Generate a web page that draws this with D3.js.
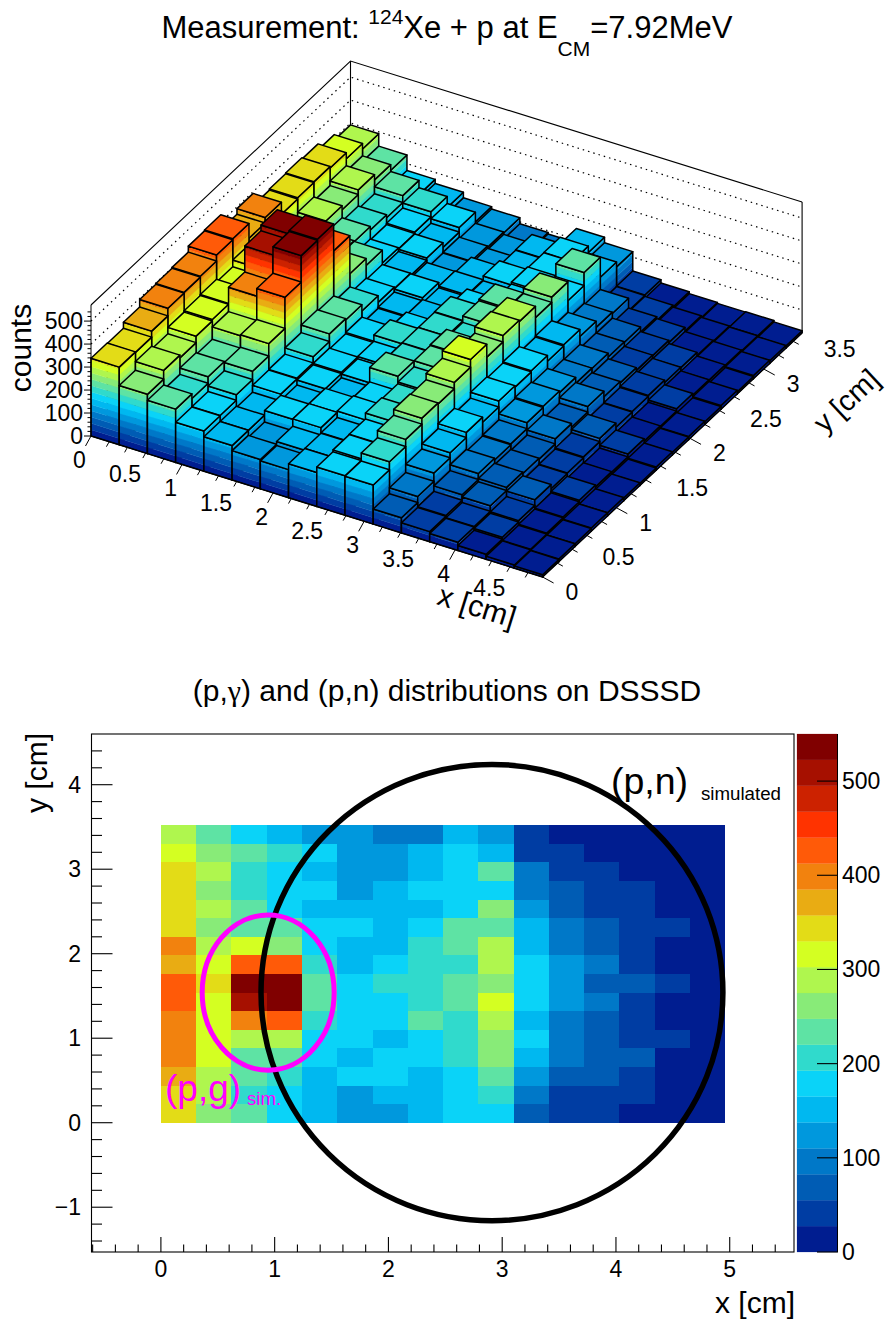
<!DOCTYPE html>
<html><head><meta charset="utf-8">
<script src="https://cdn.jsdelivr.net/npm/d3@7"></script>
<style>html,body{margin:0;background:#fff}svg{display:block}text{font-family:"Liberation Sans",Arial,sans-serif;fill:#000}</style>
</head><body><div id="c"></div>
<script>
// counts per bin; first list is the y=0 row, each list runs x=0 .. x=4.65
const row00=[338,258,232,175,150,128,122,148,172,170,66,44,36,22,14,10];
const row01=[336,296,212,176,150,120,140,148,180,205,92,48,38,30,16,12];
const row02=[362,284,240,200,145,170,172,150,182,236,128,72,62,36,20,12];
const row03=[395,312,232,236,175,148,172,178,208,262,150,98,76,60,24,14];
const row04=[398,318,286,290,178,170,152,172,202,258,172,90,70,42,30,14];
const row05=[402,322,392,425,205,176,168,235,210,285,150,94,66,44,22,12];
const row06=[428,310,505,540,238,172,178,208,236,318,176,120,88,48,20,10];
const row07=[432,340,530,545,232,178,205,210,240,262,170,125,72,62,32,14];
const row08=[368,320,430,428,205,150,172,210,204,290,175,118,96,44,22,12];
const row09=[392,292,315,262,176,155,160,212,232,284,150,92,72,46,20,14];
const row10=[340,256,235,232,170,168,145,178,238,235,155,90,66,50,30,12];
const row11=[345,282,230,176,160,150,152,148,172,258,125,74,54,40,24,16];
const row12=[348,265,215,172,170,125,145,168,180,176,98,72,52,38,22,10];
const row13=[342,285,202,178,150,128,118,148,175,232,92,50,42,24,20,14];
const row14=[316,262,232,200,170,122,112,150,176,145,38,34,26,20,16,12];
const row15=[292,238,170,152,128,118,92,86,148,124,40,26,18,14,16,10];
const rows=[row00,row01,row02,row03,row04,row05,row06,row07,row08,row09,row10,row11,row12,row13,row14,row15];
const palette=["#001D90","#003DA3","#005CB4","#0078C8","#0098DD","#00B8F0","#0AD3F8","#30DACC","#5EE3A4","#88EB78","#AFF64E","#D4FF22","#E3DC17","#E9AC13","#F2820E","#FF5A08","#FF3300","#CC2200","#A61000","#800000"];
const xBinWidth=0.31, yBinWidth=0.22, zMax=550;
const legoXTicks=[0,0.5,1,1.5,2,2.5,3,3.5,4,4.5];
const legoYTicks=[0,0.5,1,1.5,2,2.5,3,3.5];
const legoZTicks=[0,100,200,300,400,500];
const mapXTicks=[0,1,2,3,4,5];
const mapYTicks=[-1,0,1,2,3,4];
const barTicks=[0,100,200,300,400,500];
const pnCircle={cx:2.91,cy:1.54,rx:2.03,ry:2.70};
const pgCircle={cx:0.943,cy:1.54,rx:0.58,ry:0.918};

const svg=d3.select("#c").append("svg").attr("width",885).attr("height",1320);
const nx=rows[0].length, ny=rows.length;
const xEdges=d3.range(nx+1).map(i=>i*xBinWidth), yEdges=d3.range(ny+1).map(i=>i*yBinWidth);
const levels=d3.range(palette.length+1).map(i=>i*zMax/palette.length);
const color=d3.scaleThreshold().domain(levels.slice(1,-1)).range(palette);

/* ---------- top: lego ---------- */
const xMaxLego=nx*xBinWidth, yMaxLego=ny*yBinWidth, zTop=570;
const pxx=d3.scaleLinear([0,xMaxLego],[0,451.6]), pxy=d3.scaleLinear([0,xMaxLego],[0,141]);
const pyx=d3.scaleLinear([0,yMaxLego],[0,259.5]), pyy=d3.scaleLinear([0,yMaxLego],[0,-244]);
const pzy=d3.scaleLinear([0,zTop],[0,-131]);
const P=(x,y,z)=>[91+pxx(x)+pyx(y),436+pxy(x)+pyy(y)+pzy(z)];
const line=d3.line();
const poly=pts=>line(pts)+"Z";
const g3=svg.append("g");

// walls
const wall=g3.append("g").attr("fill","none").attr("stroke","#000");
const corners=[[0,0],[0,yMaxLego],[xMaxLego,yMaxLego]];
wall.append("path").attr("stroke-width",1.1).attr("d",line(corners.map(c=>P(c[0],c[1],zTop))));
wall.append("path").attr("stroke-width",1.1).attr("d",line([P(0,yMaxLego,0),P(0,yMaxLego,zTop)]));
wall.append("path").attr("stroke-width",1.1).attr("d",line([P(xMaxLego,yMaxLego,0),P(xMaxLego,yMaxLego,zTop)]));
legoZTicks.slice(1).forEach(z=>{
  wall.append("path").attr("stroke-width",1.2).attr("stroke-dasharray","1.5 4").attr("d",line(corners.map(c=>P(c[0],c[1],z))));
});

// bars, far to near
const gb=g3.append("g");
function bandFace(a,b,h){
  levels.slice(0,-1).forEach((lo,i)=>{
    if(lo>=h) return;
    const hi=Math.min(levels[i+1],h);
    gb.append("path").attr("fill",palette[i]).attr("stroke",palette[i]).attr("stroke-width",0.35)
      .attr("d",poly([P(a[0],a[1],lo),P(b[0],b[1],lo),P(b[0],b[1],hi),P(a[0],a[1],hi)]));
  });
  gb.append("path").attr("fill","none").attr("stroke","#000").attr("stroke-width",1.5).attr("stroke-linejoin","round")
    .attr("d",poly([P(a[0],a[1],0),P(b[0],b[1],0),P(b[0],b[1],h),P(a[0],a[1],h)]));
}
for(let c=0;c<nx;c++){
  for(let r=ny-1;r>=0;r--){
    const h=rows[r][c], x0=xEdges[c],x1=xEdges[c+1],y0=yEdges[r],y1=yEdges[r+1];
    bandFace([x0,y0],[x1,y0],h);
    bandFace([x1,y0],[x1,y1],h);
    gb.append("path").attr("fill",color(h)).attr("stroke","#000").attr("stroke-width",1.5).attr("stroke-linejoin","round")
      .attr("d",poly([P(x0,y0,h),P(x1,y0,h),P(x1,y1,h),P(x0,y1,h)]));
  }
}

// lego axes
const ax=g3.append("g").attr("fill","none").attr("stroke","#000").attr("stroke-width",1);
ax.append("path").attr("d",line([P(0,0,0),P(xMaxLego,0,0)]));
ax.append("path").attr("d",line([P(xMaxLego,0,0),P(xMaxLego,yMaxLego,0)]));
ax.append("path").attr("d",line([P(0,0,0),P(0,0,zTop)]));
function tick3(p,dx,dy){ax.append("path").attr("d",line([p,[p[0]+dx,p[1]+dy]]));}
d3.range(0,24.5).map(i=>i/5).forEach((v,i)=>{const M=i%5===0;tick3(P(v,0,0),M?-5.5:-2.8,M?10:5);});
d3.range(0,17.5).map(i=>i/5).forEach((v,i)=>{const M=i%5===0;tick3(P(xMaxLego,v,0),M?11:5.5,M?6:3);});
d3.range(0,27.5).map(i=>i*20).forEach((v,i)=>{const M=i%5===0;tick3(P(0,0,v),M?-7:-3.5,0);});
const tl=g3.append("g").attr("font-size",23);
legoXTicks.forEach(v=>{const p=P(v,0,0);tl.append("text").attr("x",p[0]-11.5).attr("y",p[1]+32).attr("text-anchor","middle").text(v);});
legoYTicks.forEach(v=>{const p=P(xMaxLego,v,0);tl.append("text").attr("x",p[0]+23).attr("y",p[1]+23).text(v);});
legoZTicks.forEach(v=>{const p=P(0,0,v);tl.append("text").attr("x",83).attr("y",p[1]+8).attr("text-anchor","end").text(v);});
svg.append("text").attr("font-size",30).attr("text-anchor","middle").attr("transform","translate(31,348) rotate(-90)").text("counts");
svg.append("text").attr("font-size",30).attr("text-anchor","middle").attr("transform","translate(474,616) rotate(17.3)").text("x [cm]");
svg.append("text").attr("font-size",29).attr("text-anchor","middle").attr("transform","translate(853,408) rotate(-43)").text("y [cm]");

const title=svg.append("text").attr("x",447).attr("y",38).attr("font-size",31).attr("text-anchor","middle");
title.append("tspan").text("Measurement: ");
title.append("tspan").attr("font-size",21).attr("dy",-14).text("124");
title.append("tspan").attr("dy",14).text("Xe + p at E");
title.append("tspan").attr("font-size",21).attr("dy",18).text("CM");
title.append("tspan").attr("dy",-18).text("=7.92MeV");

/* ---------- bottom: colour map ---------- */
const sub=svg.append("text").attr("x",447).attr("y",701).attr("font-size",30).attr("text-anchor","middle");
sub.append("tspan").text("(p,");
sub.append("tspan").style("font-family","'Liberation Serif',serif").text("γ");
sub.append("tspan").text(") and (p,n) distributions on DSSSD");
const fx=d3.scaleLinear([-0.61,5.565],[91.5,794]), fy=d3.scaleLinear([-1.53,4.6],[1252,734]);
const m=svg.append("g").attr("shape-rendering","crispEdges");
rows.forEach((row,r)=>row.forEach((v,c)=>{
  m.append("rect").attr("x",fx(xEdges[c])).attr("y",fy(yEdges[r+1]))
   .attr("width",fx(xEdges[c+1])-fx(xEdges[c])).attr("height",fy(yEdges[r])-fy(yEdges[r+1]))
   .attr("fill",color(v));
}));
svg.append("rect").attr("x",fx.range()[0]).attr("y",fy.range()[1]).attr("width",fx.range()[1]-fx.range()[0]).attr("height",fy.range()[0]-fy.range()[1]).attr("fill","none").attr("stroke","#000").attr("stroke-width",1.1);
const t2=svg.append("g").attr("stroke","#000").attr("stroke-width",1.1);
d3.range(-3,28).map(i=>i/5).forEach((v,i)=>{const M=Math.abs(v-Math.round(v))<1e-6;
  t2.append("line").attr("x1",fx(v)).attr("x2",fx(v)).attr("y1",1252).attr("y2",1252-(M?15:7.5));});
d3.range(-7,23).map(i=>i/5).forEach(v=>{const M=Math.abs(v-Math.round(v))<1e-6;
  t2.append("line").attr("x1",91.5).attr("x2",91.5+(M?21:10.5)).attr("y1",fy(v)).attr("y2",fy(v));});
const ml=svg.append("g").attr("font-size",23);
mapXTicks.forEach(v=>ml.append("text").attr("x",fx(v)).attr("y",1277).attr("text-anchor","middle").text(v));
mapYTicks.forEach(v=>ml.append("text").attr("x",81).attr("y",fy(v)+8).attr("text-anchor","end").text(v<0?"\u2212"+(-v):v));
svg.append("text").attr("font-size",30).attr("text-anchor","end").attr("x",795).attr("y",1313).text("x [cm]");
svg.append("text").attr("font-size",30).attr("text-anchor","end").attr("transform","translate(47,733) rotate(-90)").text("y [cm]");

// palette
const bz=d3.scaleLinear([0,zMax],[1252,734]);
const pal=svg.append("g");
palette.forEach((col,i)=>pal.append("rect").attr("x",797).attr("width",40).attr("y",bz(levels[i+1])).attr("height",bz(levels[i])-bz(levels[i+1])).attr("fill",col).attr("stroke",col).attr("stroke-width",0.2));
pal.append("line").attr("x1",837.5).attr("x2",837.5).attr("y1",734).attr("y2",1252).attr("stroke","#000").attr("stroke-width",1);
barTicks.forEach(v=>{
  pal.append("line").attr("x1",817).attr("x2",838).attr("y1",bz(v)).attr("y2",bz(v)).attr("stroke","#000").attr("stroke-width",1.1);
  pal.append("text").attr("x",842).attr("y",bz(v)+8).attr("font-size",23).text(v);
});

// ellipses + labels
svg.append("ellipse").attr("cx",fx(pnCircle.cx)).attr("cy",fy(pnCircle.cy)).attr("rx",fx(pnCircle.rx)-fx(0)).attr("ry",fy(0)-fy(pnCircle.ry)).attr("fill","none").attr("stroke","#000").attr("stroke-width",5.5);
svg.append("ellipse").attr("cx",fx(pgCircle.cx)).attr("cy",fy(pgCircle.cy)).attr("rx",fx(pgCircle.rx)-fx(0)).attr("ry",fy(0)-fy(pgCircle.ry)).attr("fill","none").attr("stroke","#FF00FF").attr("stroke-width",5);
svg.append("text").attr("x",611).attr("y",794).attr("font-size",37.5).text("(p,n)");
svg.append("text").attr("x",701).attr("y",800).attr("font-size",18.7).text("simulated");
svg.append("text").attr("x",165).attr("y",1101).attr("font-size",37).style("fill","#FF00FF").text("(p,g)");
svg.append("text").attr("x",247).attr("y",1105).attr("font-size",18.7).style("fill","#FF00FF").text("sim.");
</script></body></html>
